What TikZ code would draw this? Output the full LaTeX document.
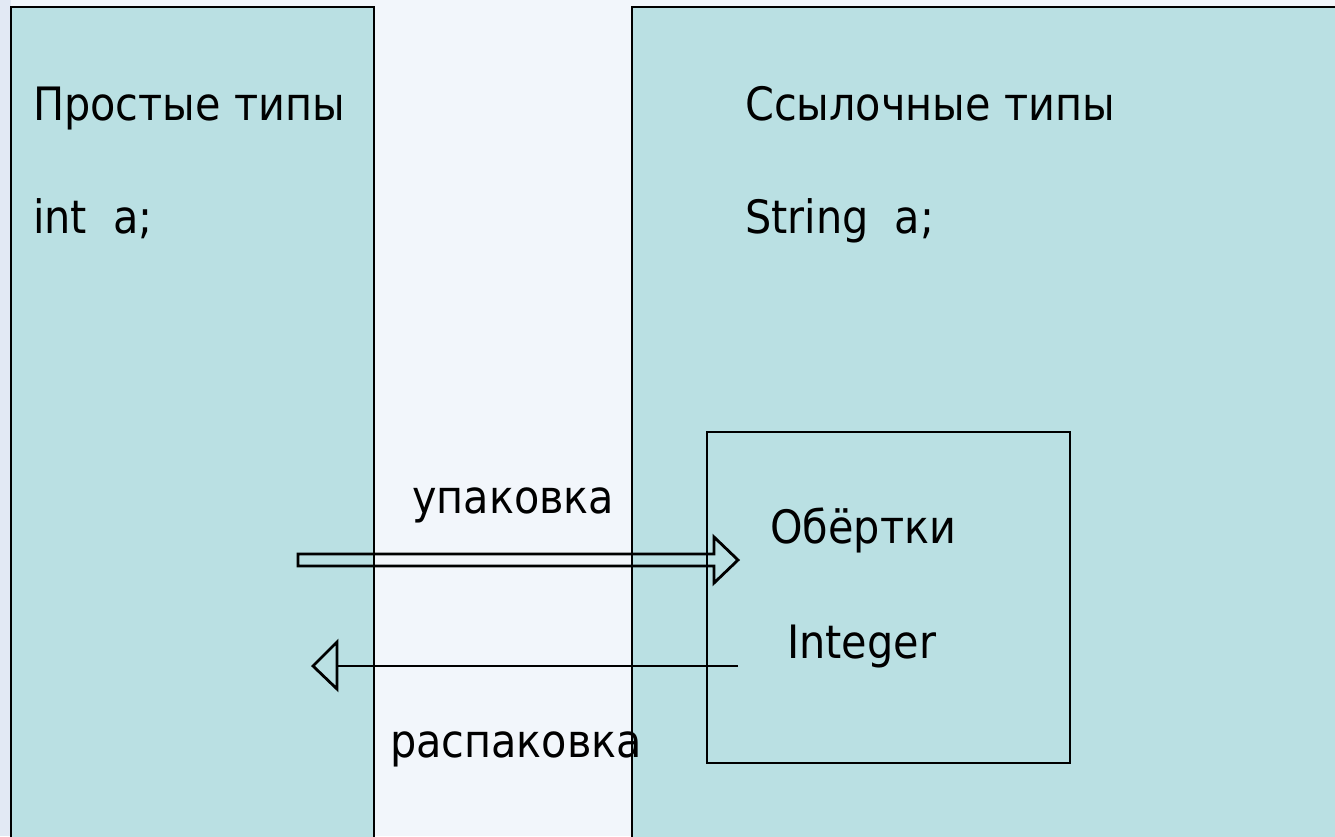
\documentclass[tikz,border=0pt]{standalone}
\usepackage{fontspec}
\setmainfont{DejaVu Sans Condensed}
\usetikzlibrary{positioning}
\definecolor{boxteal}{RGB}{186,224,227}
\definecolor{slidebg}{RGB}{242,246,251}
\definecolor{slideedge}{RGB}{226,233,244}
\tikzset{
  panel/.style={draw=black, line width=2.6pt, fill=boxteal},
  inner/.style={draw=black, line width=2.4pt},
  lbl/.style={anchor=base west, inner sep=0pt, font=\fontsize{46}{56}\selectfont},
  arrowline/.style={draw=black, line width=2.8pt, line join=miter},
}
\begin{document}
\begin{tikzpicture}[x=1pt,y=-1pt]
\useasboundingbox (0,0) rectangle (1335,836);
\fill[slidebg] (0,0) rectangle (1335,836);
\fill[slideedge] (0,0) rectangle (11,836);
\clip (0,0) rectangle (1335,836);
% panels
\draw[panel] (11,7) rectangle (374,860);
\draw[panel] (632,7) rectangle (1360,860);
\draw[inner] (707,432) rectangle (1070,763);
% labels
\node[lbl] (simple) at (33,120) {Простые типы};
\node[lbl] (inta) at (33,233) {int\ \ a;};
\node[lbl] (ref) at (745,120) {Ссылочные типы};
\node[lbl] (stra) at (745,233) {String\ \ a;};
\node[lbl] (pack) at (412,513) {упаковка};
\node[lbl] (unpack) at (390,757) {распаковка};
\node[lbl] (wrap) at (770,543) {Обёртки};
\node[lbl] (integ) at (787,658) {Integer};
% boxing arrow (hollow block arrow)
\coordinate (bs) at (298,560);
\coordinate (bt) at (738,560);
\draw[arrowline] (298,554) -- (714,554) -- (714,537) -- (bt) -- (714,583) -- (714,566) -- (298,566) -- cycle;
% unboxing arrow (open triangle head)
\coordinate (us) at (738,666);
\coordinate (ut) at (313,666);
\draw[arrowline] (us) -- (337,666);
\draw[arrowline] (ut) -- (337,642) -- (337,689) -- cycle;
\end{tikzpicture}
\end{document}
